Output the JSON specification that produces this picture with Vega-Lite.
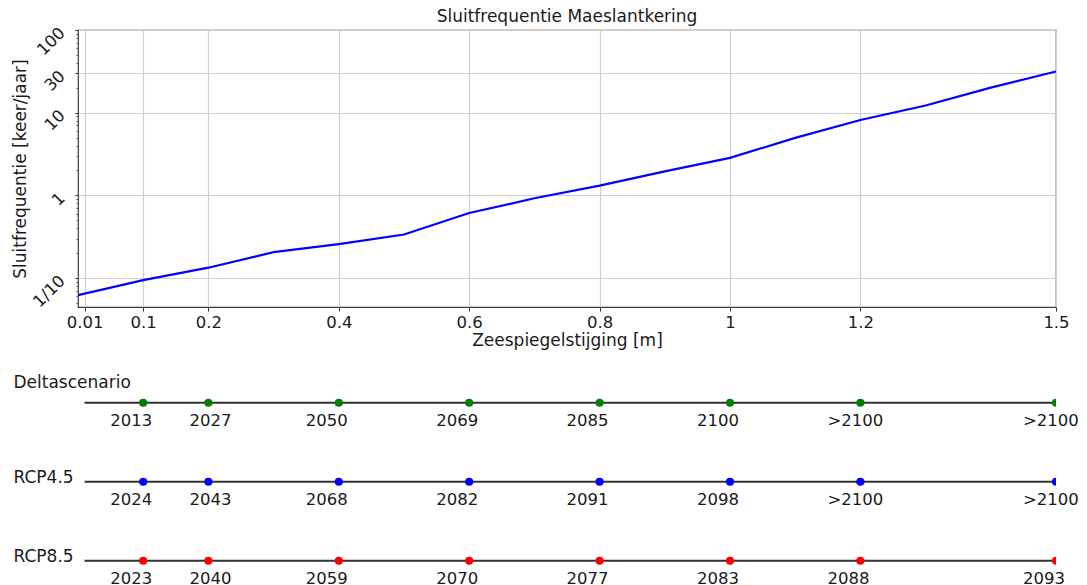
{
  "$schema": "https://vega.github.io/schema/vega-lite/v6.json",
  "background": "white",
  "padding": {"left": 10, "top": 7, "right": 5, "bottom": 0},
  "bounds": "flush",
  "spacing": 76,
  "config": {
    "font": "DejaVu Sans",
    "view": {"stroke": "#3a3a3a", "strokeWidth": 1.2},
    "axis": {
      "labelColor": "#1a1a1a",
      "titleColor": "#1a1a1a",
      "labelFont": "DejaVu Sans",
      "titleFont": "DejaVu Sans",
      "titleFontWeight": "normal"
    },
    "title": {"font": "DejaVu Sans", "fontWeight": "normal", "color": "#1a1a1a"}
  },
  "vconcat": [
    {
      "width": 978,
      "height": 277,
      "title": {"text": "Sluitfrequentie Maeslantkering", "fontSize": 17, "offset": -2, "frame": "group"},
      "data": {
        "values": [
          {"zeespiegel": 0.0, "frequentie": 0.062},
          {"zeespiegel": 0.1, "frequentie": 0.094},
          {"zeespiegel": 0.2, "frequentie": 0.133},
          {"zeespiegel": 0.3, "frequentie": 0.205},
          {"zeespiegel": 0.4, "frequentie": 0.257},
          {"zeespiegel": 0.5, "frequentie": 0.335},
          {"zeespiegel": 0.6, "frequentie": 0.61},
          {"zeespiegel": 0.7, "frequentie": 0.92},
          {"zeespiegel": 0.8, "frequentie": 1.31},
          {"zeespiegel": 0.9, "frequentie": 1.95},
          {"zeespiegel": 1.0, "frequentie": 2.84},
          {"zeespiegel": 1.1, "frequentie": 4.95},
          {"zeespiegel": 1.2, "frequentie": 8.15},
          {"zeespiegel": 1.3, "frequentie": 12.2},
          {"zeespiegel": 1.4, "frequentie": 20.1},
          {"zeespiegel": 1.5, "frequentie": 31.5}
        ]
      },
      "layer": [
        {
          "mark": {"type": "line", "color": "#0000ff", "strokeWidth": 2.2, "clip": true},
          "encoding": {
            "x": {
              "field": "zeespiegel",
              "type": "quantitative",
              "scale": {"domain": [0, 1.5], "nice": false, "zero": false},
              "axis": {
                "values": [0.01, 0.1, 0.2, 0.4, 0.6, 0.8, 1, 1.2, 1.5],
                "format": "~g",
                "title": "Zeespiegelstijging [m]",
                "grid": true,
                "gridColor": "#cfcfcf",
                "gridWidth": 1.2,
                "domain": false,
                "tickSize": 4,
                "tickColor": "#333",
                "labelFontSize": 16.5,
                "labelPadding": 3,
                "labelFlush": false,
                "labelOverlap": false,
                "titleFontSize": 17,
                "titlePadding": 2
              }
            },
            "y": {
              "field": "frequentie",
              "type": "quantitative",
              "scale": {"type": "log", "domain": [0.0445, 100], "nice": false},
              "axis": {
                "values": [0.1, 1, 10, 30, 100],
                "labelExpr": "datum.value < 0.5 ? '1/10' : format(datum.value, '~g')",
                "labelAngle": -45,
                "labelAlign": "right",
                "labelBaseline": "middle",
                "labelFontSize": 16.5,
                "labelPadding": 13,
                "title": "Sluitfrequentie [keer/jaar]",
                "titleFontSize": 17,
                "titlePadding": 1,
                "grid": true,
                "gridColor": "#cfcfcf",
                "gridWidth": 1.2,
                "domain": false,
                "tickSize": 3,
                "tickColor": "#333"
              }
            }
          }
        },
        {
          "mark": {"type": "line", "opacity": 0},
          "encoding": {
            "x": {"field": "zeespiegel", "type": "quantitative"},
            "y": {
              "field": "frequentie",
              "type": "quantitative",
              "axis": {
                "orient": "left",
                "values": [0.05, 0.06, 0.07, 0.08, 0.09, 0.2, 0.3, 0.4, 0.5, 0.6, 0.7, 0.8, 0.9, 2, 3, 4, 5, 6, 7, 8, 9, 20, 40, 50, 60, 70, 80, 90],
                "labels": false,
                "title": null,
                "grid": false,
                "domain": false,
                "tickSize": 2,
                "tickColor": "#555"
              }
            }
          }
        }
      ],
      "resolve": {"axis": {"y": "independent"}}
    },
    {
      "width": 978,
      "height": 197.5,
      "view": {"stroke": null},
      "data": {
        "values": [
          {"scenario": "Deltascenario", "zeespiegel": 0.1, "jaar": "2013"},
          {"scenario": "Deltascenario", "zeespiegel": 0.2, "jaar": "2027"},
          {"scenario": "Deltascenario", "zeespiegel": 0.4, "jaar": "2050"},
          {"scenario": "Deltascenario", "zeespiegel": 0.6, "jaar": "2069"},
          {"scenario": "Deltascenario", "zeespiegel": 0.8, "jaar": "2085"},
          {"scenario": "Deltascenario", "zeespiegel": 1.0, "jaar": "2100"},
          {"scenario": "Deltascenario", "zeespiegel": 1.2, "jaar": ">2100"},
          {"scenario": "Deltascenario", "zeespiegel": 1.5, "jaar": ">2100"},
          {"scenario": "RCP4.5", "zeespiegel": 0.1, "jaar": "2024"},
          {"scenario": "RCP4.5", "zeespiegel": 0.2, "jaar": "2043"},
          {"scenario": "RCP4.5", "zeespiegel": 0.4, "jaar": "2068"},
          {"scenario": "RCP4.5", "zeespiegel": 0.6, "jaar": "2082"},
          {"scenario": "RCP4.5", "zeespiegel": 0.8, "jaar": "2091"},
          {"scenario": "RCP4.5", "zeespiegel": 1.0, "jaar": "2098"},
          {"scenario": "RCP4.5", "zeespiegel": 1.2, "jaar": ">2100"},
          {"scenario": "RCP4.5", "zeespiegel": 1.5, "jaar": ">2100"},
          {"scenario": "RCP8.5", "zeespiegel": 0.1, "jaar": "2023"},
          {"scenario": "RCP8.5", "zeespiegel": 0.2, "jaar": "2040"},
          {"scenario": "RCP8.5", "zeespiegel": 0.4, "jaar": "2059"},
          {"scenario": "RCP8.5", "zeespiegel": 0.6, "jaar": "2070"},
          {"scenario": "RCP8.5", "zeespiegel": 0.8, "jaar": "2077"},
          {"scenario": "RCP8.5", "zeespiegel": 1.0, "jaar": "2083"},
          {"scenario": "RCP8.5", "zeespiegel": 1.2, "jaar": "2088"},
          {"scenario": "RCP8.5", "zeespiegel": 1.5, "jaar": "2093"}
        ]
      },
      "encoding": {
        "y": {
          "field": "scenario",
          "type": "nominal",
          "sort": ["Deltascenario", "RCP4.5", "RCP8.5"],
          "scale": {"type": "point", "padding": 0.25},
          "axis": {
            "title": null,
            "domain": false,
            "ticks": false,
            "tickSize": 0,
            "grid": false,
            "labelAlign": "left",
            "labelBaseline": "alphabetic",
            "labelPadding": 65,
            "labelFontSize": 17,
            "labelLimit": 0,
            "labelOffset": {
              "condition": {"test": "datum.value === 'Deltascenario'", "value": -15.5},
              "value": 1
            }
          }
        }
      },
      "layer": [
        {
          "data": {"values": [{"scenario": "Deltascenario"}, {"scenario": "RCP4.5"}, {"scenario": "RCP8.5"}]},
          "mark": {"type": "rule", "color": "#333", "strokeWidth": 2, "clip": true},
          "encoding": {
            "x": {"datum": 0.01, "type": "quantitative", "scale": {"domain": [0, 1.5], "nice": false, "zero": false}, "axis": null},
            "x2": {"datum": 1.5}
          }
        },
        {
          "mark": {"type": "circle", "size": 66, "opacity": 1, "clip": true},
          "encoding": {
            "x": {"field": "zeespiegel", "type": "quantitative"},
            "color": {
              "field": "scenario",
              "type": "nominal",
              "scale": {"domain": ["Deltascenario", "RCP4.5", "RCP8.5"], "range": ["#008000", "#0000ff", "#ff0000"]},
              "legend": null
            }
          }
        },
        {
          "transform": [{"filter": "datum.zeespiegel != 0.2"}],
          "mark": {"type": "text", "align": "left", "baseline": "alphabetic", "dx": -33, "dy": 23.5, "fontSize": 16.5, "color": "#1a1a1a"},
          "encoding": {
            "x": {"field": "zeespiegel", "type": "quantitative"},
            "text": {"field": "jaar"}
          }
        },
        {
          "transform": [{"filter": "datum.zeespiegel == 0.2"}],
          "mark": {"type": "text", "align": "left", "baseline": "alphabetic", "dx": -19, "dy": 23.5, "fontSize": 16.5, "color": "#1a1a1a"},
          "encoding": {
            "x": {"field": "zeespiegel", "type": "quantitative"},
            "text": {"field": "jaar"}
          }
        }
      ]
    }
  ]
}
